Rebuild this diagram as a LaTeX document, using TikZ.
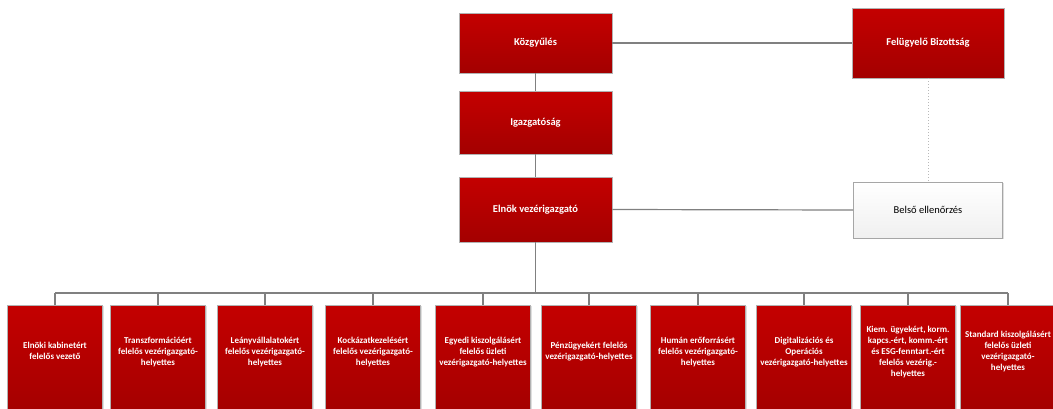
\documentclass[tikz,border=0pt]{standalone}
\usepackage{fontspec}
\setmainfont{Carlito}
\usetikzlibrary{shadows}

\definecolor{boxtop}{RGB}{196,0,0}
\definecolor{boxbot}{RGB}{163,0,0}
\definecolor{linegray}{RGB}{128,128,128}

\tikzset{
  redbox/.style={draw=gray!60, line width=.6pt, top color=boxtop, bottom color=boxbot,
    text=white, font=\fontsize{10.5}{12}\selectfont\bfseries,
    drop shadow={shadow xshift=1pt, shadow yshift=-1pt, opacity=.25}},
  lowbox/.style={redbox, minimum width=95pt, minimum height=110pt, inner xsep=1pt,
    font=\fontsize{9}{11}\selectfont\bfseries, text height=0pt, text depth=11.5pt},
  greybox/.style={draw=gray!70, line width=.8pt, top color=white, bottom color=gray!12,
    font=\fontsize{10.5}{12}\selectfont,
    drop shadow={shadow xshift=1pt, shadow yshift=-1pt, opacity=.25}},
  orgline/.style={draw=linegray, line width=1.2pt},
}
\newcommand{\rows}[1]{\begin{tabular}{@{}c@{}}#1\end{tabular}}

\begin{document}
\begin{tikzpicture}[x=1pt,y=-1pt]
\useasboundingbox (0,0) rectangle (1053,408);

% top of the tree
\node[redbox, minimum width=153pt, minimum height=60pt] (kozgy) at (535.5,43) {Közgyűlés};
\node[redbox, minimum width=153pt, minimum height=63pt] (igazg) at (535.5,122.5) {Igazgatóság};
\node[redbox, minimum width=153pt, minimum height=65pt] (elnok) at (535.5,209.5) {Elnök vezérigazgató};

\node[redbox, minimum width=152pt, minimum height=70pt] (fb) at (928,43) {Felügyelő Bizottság};
\node[greybox, minimum width=149pt, minimum height=56pt] (belso) at (928,210) {Belső ellenőrzés};

% bottom row
\node[lowbox] (b1) at (55,360) {\rows{Elnöki kabinetért\\felelős vezető}};
\node[lowbox] (b2) at (158,360) {\rows{Transzformációért\\felelős vezérigazgató-\\helyettes}};
\node[lowbox] (b3) at (265,360) {\rows{Leányvállalatokért\\felelős vezérigazgató-\\helyettes}};
\node[lowbox] (b4) at (373,360) {\rows{Kockázatkezelésért\\felelős vezérigazgató-\\helyettes}};
\node[lowbox] (b5) at (483,360) {\rows{Egyedi kiszolgálásért\\felelős üzleti\\vezérigazgató-helyettes}};
\node[lowbox] (b6) at (589,360) {\rows{Pénzügyekért felelős\\vezérigazgató-helyettes}};
\node[lowbox] (b7) at (698,360) {\rows{Humán erőforrásért\\felelős vezérigazgató-\\helyettes}};
\node[lowbox] (b8) at (804,360) {\rows{Digitalizációs és\\Operációs\\vezérigazgató-helyettes}};
\node[lowbox] (b9) at (908,360) {\rows{Kiem. ügyekért, korm.\\kapcs.-ért, komm.-ért\\és ESG-fenntart.-ért\\felelős vezérig.-\\helyettes}};
\node[lowbox] (b10) at (1008,360) {\rows{Standard kiszolgálásért\\felelős üzleti\\vezérigazgató-\\helyettes}};

\coordinate (bus) at (535.5,293);

% connectors
\draw[orgline] (kozgy.east) -- (fb.west);
\draw[orgline] (kozgy.south) -- (igazg.north);
\draw[orgline] (igazg.south) -- (elnok.north);
\draw[orgline] (elnok.east) -- (belso.west);
\draw[draw=gray!55, line width=1pt, dotted] (fb.south) -- (belso.north);

\draw[orgline] (elnok.south) -- (bus);
\draw[orgline] (b1.north |- bus) -- (b10.north |- bus);
\draw[orgline] (b1.north |- bus) -- (b1.north);
\draw[orgline] (b2.north |- bus) -- (b2.north);
\draw[orgline] (b3.north |- bus) -- (b3.north);
\draw[orgline] (b4.north |- bus) -- (b4.north);
\draw[orgline] (b5.north |- bus) -- (b5.north);
\draw[orgline] (b6.north |- bus) -- (b6.north);
\draw[orgline] (b7.north |- bus) -- (b7.north);
\draw[orgline] (b8.north |- bus) -- (b8.north);
\draw[orgline] (b9.north |- bus) -- (b9.north);
\draw[orgline] (b10.north |- bus) -- (b10.north);
\end{tikzpicture}
\end{document}
